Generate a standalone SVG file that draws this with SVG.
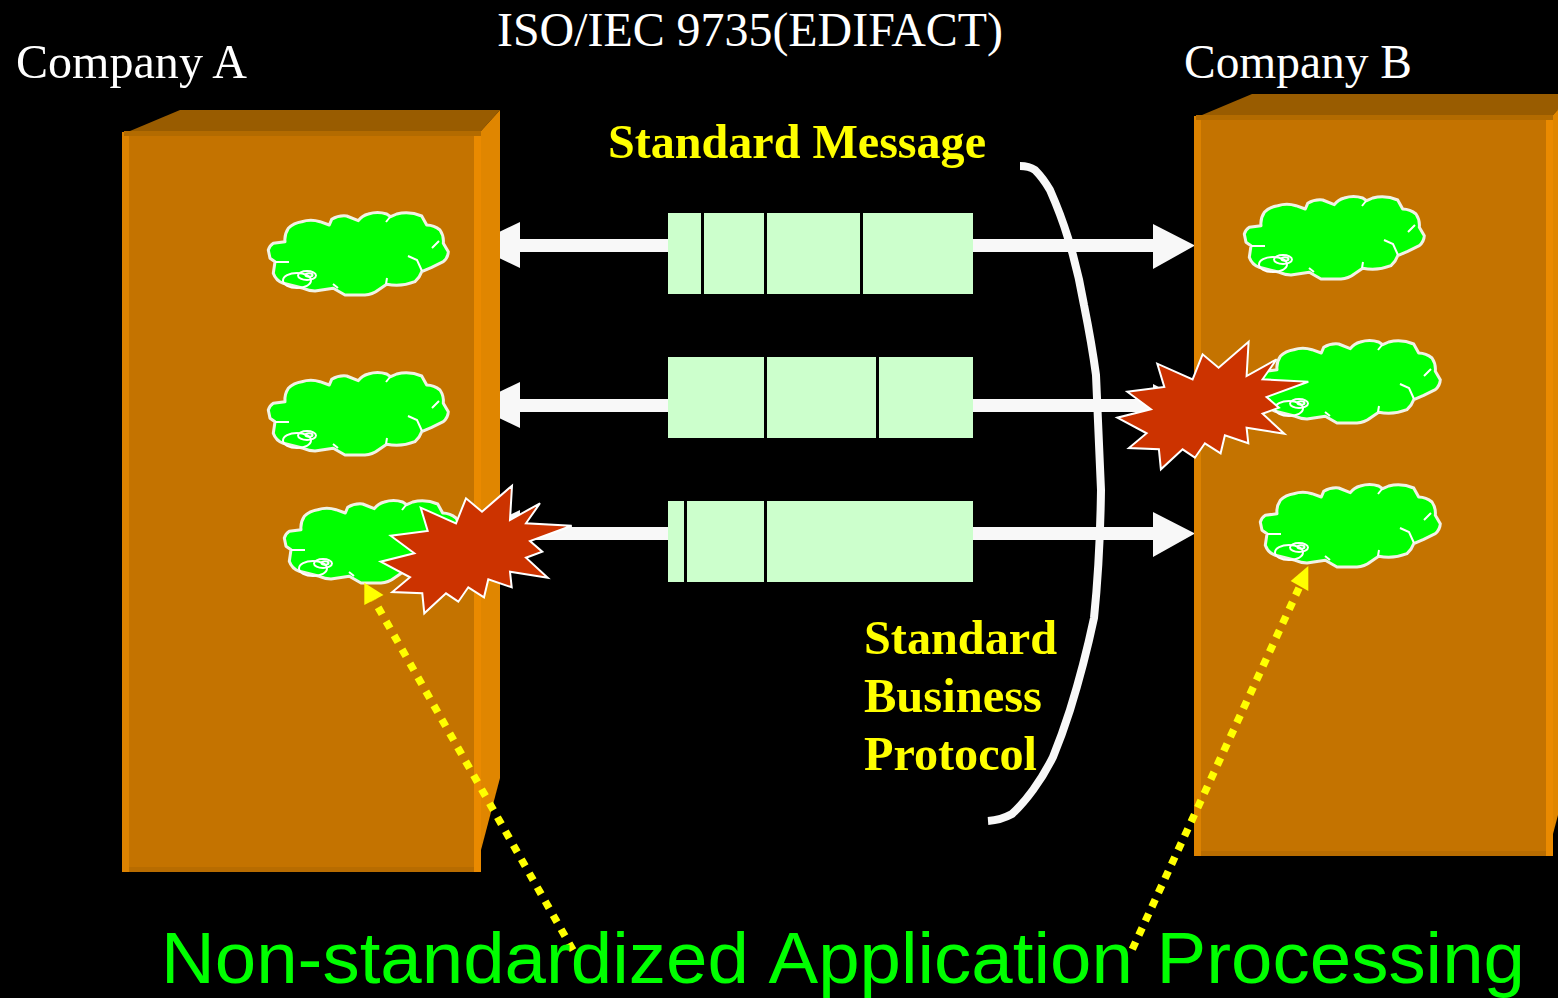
<svg xmlns="http://www.w3.org/2000/svg" xmlns:xlink="http://www.w3.org/1999/xlink" width="1558" height="998" viewBox="0 0 1558 998">
<style>
.serif{font-family:"Liberation Serif","Times New Roman",serif;fill:#fff;font-size:48px}
.bold{font-family:"Liberation Serif","Times New Roman",serif;fill:#ff0;font-size:48px;font-weight:bold}
.sans{font-family:"Liberation Sans",Arial,sans-serif;fill:#0f0;font-size:72px;word-spacing:3px}
.box{fill:#ccffcc}
.div{fill:#000}
.shaft{fill:#f8f8f8}
.dots{fill:none;stroke:#ff0;stroke-width:7.500}
.detail{fill:none;stroke:#fff;stroke-width:2}
</style>
<defs>
<g id="building">
<polygon points="130,131 180,110 500,110 481,131" fill="#995c00"/>
<polygon points="481,131 500,110 500,778 481,850" fill="#e08600"/>
<rect x="122" y="132" width="359" height="740" fill="#ea8a00"/>
<rect x="122" y="132" width="7" height="740" fill="#dc8200"/>
<rect x="129" y="136" width="345" height="731" fill="#c47300"/>
<rect x="124" y="131" width="357" height="5" fill="#b36b00"/>
<rect x="129" y="867" width="345" height="5" fill="#b86c00"/>
</g>
<g id="cloud">
<path d="M268.300,250 A12 12 0 0 1 273.300,243.300 L285,241.700 A20 20 0 0 1 288.300,228.300 A24 24 0 0 1 301.700,221.700 A30 30 0 0 1 320,221.700 L329.300,225 L331.700,219.300 A24 24 0 0 1 346.700,216 L358.300,220.700 A18 18 0 0 1 368.300,214 A30 30 0 0 1 386.700,214 L390.700,216.700 L396.700,214 A40 40 0 0 1 421.700,216 L426.700,225 A22 22 0 0 1 440,230 A20 20 0 0 1 443.300,243.300 L448.300,251.700 A14 14 0 0 1 443.300,261.700 L431.700,267.300 L421.700,271.700 A24 24 0 0 1 415,281.700 A50 50 0 0 1 386.700,284.300 L378.300,290 A24 24 0 0 1 365,295 L345,295 L333.300,288.300 L315,291 A30 30 0 0 1 303.300,288.300 L283.300,283.300 A16 16 0 0 1 273.300,273.300 L275,261.700 L270,258.300 Z" fill="#0f0" stroke="#f2f2e6" stroke-width="3" stroke-linejoin="round"/>
<path class="detail" d="M275,262 H289 M386,222 L390,217 M432,248 L439,241 M408,256 L417,260 L422,271 M333,284 L338,288 M386,284 L387,278"/>
<ellipse class="detail" cx="297" cy="280.500" rx="14" ry="7.500"/>
<ellipse class="detail" cx="307" cy="275.500" rx="9" ry="4.500"/>
<ellipse class="detail" cx="309" cy="275" rx="3.500" ry="1.800"/>
</g>
<polygon id="star" points="571.700,525.700 530,541 542.300,551.700 526,557.700 547.700,577.700 510,571.700 511.700,587.300 488.300,579.300 484,597.300 468.300,587.300 458.300,601.700 446,593.300 424.300,613.300 422.300,593.300 392.300,592 410,577.300 380.700,561.700 414.300,553.300 390.700,535.700 427.700,531 420.700,507.700 456,523.300 466,498.300 482,511.700 512,485.700 510,520 540,503.300 526,523.300" fill="#cc3300" stroke="#fff" stroke-width="2"/>
</defs>
<rect width="1558" height="998" fill="#000"/>
<g id="connectors">
<g id="arrows" class="shaft">
<polygon points="472,245 520,222 520,239 668,239 668,252 520,252 520,268"/>
<polygon points="472,405 520,382 520,399 668,399 668,412 520,412 520,428"/>
<polygon points="472,533 520,510 520,527 668,527 668,540 520,540 520,556"/>
<polygon points="973,239 1153,239 1153,224 1195,245.500 1153,269 1153,252 973,252"/>
<polygon points="973,399 1153,399 1153,384 1195,405.500 1153,429 1153,412 973,412"/>
<polygon points="973,527 1153,527 1153,512 1195,533.500 1153,557 1153,540 973,540"/>
</g>
<path d="M1020,166 Q1029,166 1035,170 Q1043,178 1050,190 Q1061,215 1068,238 Q1078,270 1084,305 Q1092,345 1096,375 L1101,490 Q1100,560 1094,618 Q1084,665 1070,710 Q1062,735 1053,757 Q1044,775 1033,790 Q1022,805 1012,814 Q1001,820 988,821" fill="none" stroke="#f8f8f8" stroke-width="8"/>
</g>
<use id="company-a" xlink:href="#building" href="#building"/>
<use id="company-b" xlink:href="#building" href="#building" transform="translate(1072,-16)"/>
<g id="msg-1"><rect class="box" x="668" y="213" width="305" height="81"/><rect class="div" x="701" y="213" width="3" height="81"/><rect class="div" x="764" y="213" width="3" height="81"/><rect class="div" x="860" y="213" width="3" height="81"/></g>
<g id="msg-2"><rect class="box" x="668" y="357" width="305" height="81"/><rect class="div" x="764" y="357" width="3" height="81"/><rect class="div" x="876" y="357" width="3" height="81"/></g>
<g id="msg-3"><rect class="box" x="668" y="501" width="305" height="81"/><rect class="div" x="684" y="501" width="3" height="81"/><rect class="div" x="764" y="501" width="3" height="81"/></g>
<use id="app-a1" xlink:href="#cloud" href="#cloud"/>
<use id="app-a2" xlink:href="#cloud" href="#cloud" transform="translate(0,160)"/>
<use id="app-a3" xlink:href="#cloud" href="#cloud" transform="translate(16,288)"/>
<use id="app-b1" xlink:href="#cloud" href="#cloud" transform="translate(976,-16)"/>
<use id="app-b2" xlink:href="#cloud" href="#cloud" transform="translate(992,128)"/>
<use id="app-b3" xlink:href="#cloud" href="#cloud" transform="translate(992,272)"/>
<use id="burst-a" xlink:href="#star" href="#star"/>
<use id="burst-b" xlink:href="#star" href="#star" transform="translate(736.600,-144)"/>
<g id="pointers">
<path class="dots" stroke-dasharray="8 8.100" d="M573,950.200 L374,600"/>
<polygon points="364.300,582.700 383.500,595 364.300,605" fill="#ff0"/>
<path class="dots" stroke-dasharray="8 7.600" d="M1132.300,949.300 L1299,588"/>
<polygon points="1308.300,566 1290.700,581 1308.300,591" fill="#ff0"/>
</g>
<g id="labels">
<text class="serif" x="16" y="78" textLength="231" lengthAdjust="spacingAndGlyphs">Company A</text>
<text class="serif" x="497" y="46" textLength="506" lengthAdjust="spacingAndGlyphs">ISO/IEC 9735(EDIFACT)</text>
<text class="serif" x="1184" y="78" textLength="228" lengthAdjust="spacingAndGlyphs">Company B</text>
<text class="bold" x="608" y="158" textLength="378" lengthAdjust="spacingAndGlyphs">Standard Message</text>
<text class="bold" x="864" y="654" textLength="193" lengthAdjust="spacingAndGlyphs">Standard</text>
<text class="bold" x="864" y="712" textLength="178" lengthAdjust="spacingAndGlyphs">Business</text>
<text class="bold" x="864" y="770" textLength="173" lengthAdjust="spacingAndGlyphs">Protocol</text>
<text class="sans" x="161" y="983" textLength="1364" lengthAdjust="spacingAndGlyphs">Non-standardized Application Processing</text>
</g>
</svg>
